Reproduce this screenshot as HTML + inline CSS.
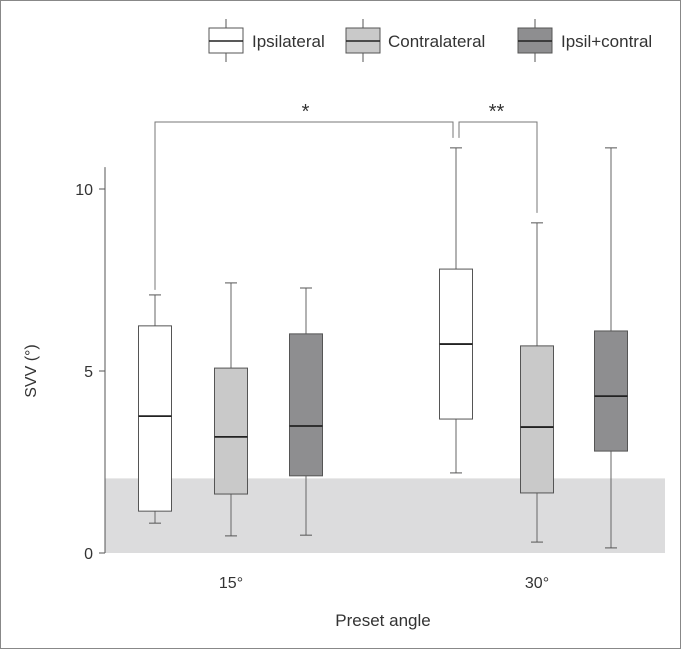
<!DOCTYPE html>
<html><head><meta charset="utf-8"><style>
body{margin:0;background:#fff}
svg{display:block;font-family:"Liberation Sans",sans-serif}
</style></head><body>
<svg id="c" width="681" height="649">
<rect x="0.5" y="0.5" width="680" height="648" fill="#fff" stroke="#888"/>
<g id="plot"></g>
</svg>
<script>
const groups=["15°","30°"];
const seriesNames=["Ipsilateral","Contralateral","Ipsil+contral"];
const seriesFill=["#ffffff","#c9c9c9","#8e8e90"];
const whiskerLow=[[0.82,0.47,0.49],[2.2,0.3,0.14]];
const q1=[[1.15,1.62,2.12],[3.68,1.65,2.8]];
const median=[[3.76,3.19,3.49],[5.74,3.46,4.31]];
const q3=[[6.24,5.08,6.02],[7.8,5.69,6.1]];
const whiskerHigh=[[7.09,7.42,7.28],[11.13,9.07,11.13]];
const yTicks=[0,5,10];
const normalLimit=2.05;
const NS="http://www.w3.org/2000/svg";
const g=document.getElementById("plot");
function y(v){return 553-v*36.4;}
const layoutX=[[155,231,306],[456,537,611]];
function x(gi,si){return layoutX[gi][si];}
function el(t,a,txt){const e=document.createElementNS(NS,t);for(const k in a)e.setAttribute(k,a[k]);if(txt!==undefined)e.textContent=txt;g.appendChild(e);return e;}
let e;
e=el("rect",{x:105,y:y(normalLimit),width:560,height:y(0)-y(normalLimit),fill:"#dcdcdd"});


e=el("line",{x1:105,y1:y(0),x2:105,y2:y(10.6),stroke:"#555"});


yTicks.forEach(t=>{
 el("line",{x1:99,y1:y(t),x2:105,y2:y(t),stroke:"#555"});
 e=el("text",{x:93,y:y(t)+6,"text-anchor":"end","font-size":16,fill:"#333"},t);
 
 
});
e=el("text",{x:36,y:371,"text-anchor":"middle","font-size":16,fill:"#333",transform:"rotate(-90 36 371)"},"SVV (°)");


groups.forEach((gn,gi)=>{
 e=el("text",{x:x(gi,1),y:588,"text-anchor":"middle","font-size":16,fill:"#333"},gn);
 
 
 for(let si=0;si<3;si++){
  const cx=x(gi,si),w=33;
  el("line",{x1:cx,y1:y(whiskerHigh[gi][si]),x2:cx,y2:y(q3[gi][si]),stroke:"#666"});
  el("line",{x1:cx,y1:y(q1[gi][si]),x2:cx,y2:y(whiskerLow[gi][si]),stroke:"#666"});
  el("line",{x1:cx-6,y1:y(whiskerHigh[gi][si]),x2:cx+6,y2:y(whiskerHigh[gi][si]),stroke:"#555"});
  el("line",{x1:cx-6,y1:y(whiskerLow[gi][si]),x2:cx+6,y2:y(whiskerLow[gi][si]),stroke:"#555"});
  e=el("rect",{x:cx-w/2,y:y(q3[gi][si]),width:w,height:y(q1[gi][si])-y(q3[gi][si]),fill:seriesFill[si],stroke:"#555"});
  
  
  el("line",{x1:cx-w/2,y1:y(median[gi][si]),x2:cx+w/2,y2:y(median[gi][si]),stroke:"#222","stroke-width":1.8});
 }
});
const by=122;
e=el("path",{d:`M${x(0,0)} ${y(whiskerHigh[0][0])-5} V${by} H${x(1,0)-3} V${y(whiskerHigh[1][0])-10}`,fill:"none",stroke:"#777"});


e=el("path",{d:`M${x(1,0)+3} ${y(whiskerHigh[1][0])-10} V${by} H${x(1,1)} V${y(whiskerHigh[1][1])-10}`,fill:"none",stroke:"#777"});


e=el("text",{x:(x(0,0)+x(1,0))/2,y:118,"text-anchor":"middle","font-size":20,fill:"#333"},"*");


e=el("text",{x:(x(1,0)+x(1,1))/2,y:118,"text-anchor":"middle","font-size":20,fill:"#333"},"**");


e=el("text",{x:383,y:626,"text-anchor":"middle","font-size":17,fill:"#333"},"Preset angle");


const legX=[226,363,535],textX=[252,388,561];
seriesNames.forEach((n,i)=>{
 el("line",{x1:legX[i],y1:19,x2:legX[i],y2:62,stroke:"#555"});
 e=el("rect",{x:legX[i]-17,y:28,width:34,height:25,fill:seriesFill[i],stroke:"#555"});
 
 
 el("line",{x1:legX[i]-17,y1:41,x2:legX[i]+17,y2:41,stroke:"#222","stroke-width":1.5});
 e=el("text",{x:textX[i],y:47,"font-size":17,fill:"#333"},n);
 
 
});
</script>
</body></html>
